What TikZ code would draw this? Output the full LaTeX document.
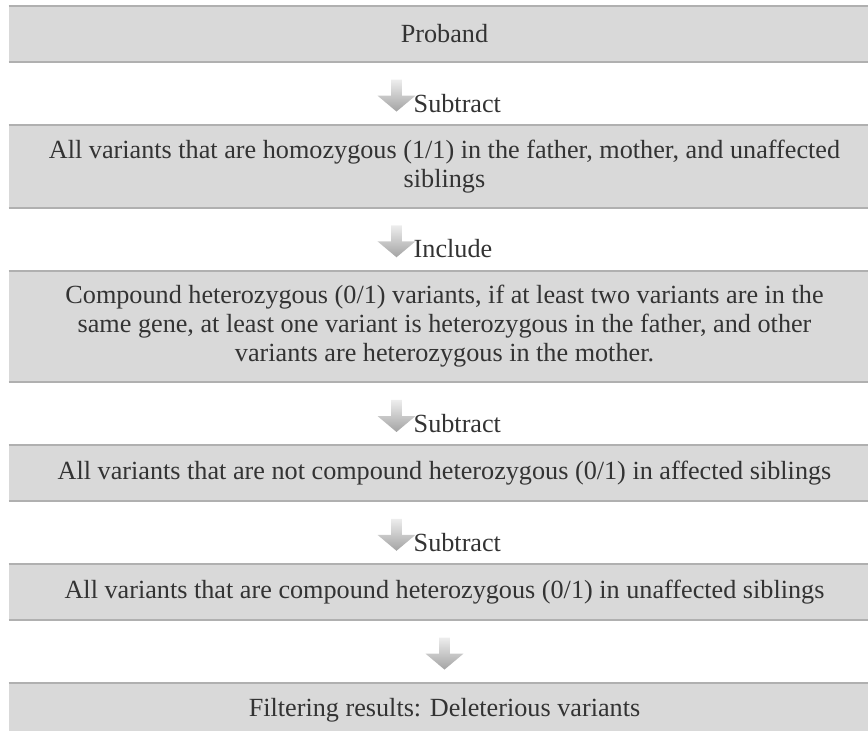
\documentclass[tikz,border=0pt]{standalone}
\usepackage{fontspec}
\setmainfont{Liberation Serif}
\usetikzlibrary{positioning,shapes.arrows}

\definecolor{boxfill}{HTML}{D9D9D9}
\definecolor{boxrule}{HTML}{B0B0B0}
\definecolor{txtgray}{HTML}{333333}

\begin{document}
\begin{tikzpicture}[
  x=0.5pt, y=-0.5pt,
  font=\fontsize{13.1}{14.5}\selectfont,
  stepbox/.style = {
    rectangle, fill=boxfill, align=center, text=txtgray,
    minimum width=435.5pt, minimum height=27.5pt,
    inner xsep=4pt, inner ysep=7.2pt,
  },
  rule/.style = {draw=boxrule, line width=1pt},
  downarrow/.style = {
    single arrow, shape border rotate=270, inner sep=2.5pt,
    single arrow head extend=6.75pt, single arrow tip angle=100,
    minimum height=16pt,
    top color=black!7, bottom color=black!36, draw=none,
  },
  note/.style = {inner sep=0pt, text=txtgray, anchor=base west, xshift=5.5pt},
  node distance=31.5pt,
]
  \useasboundingbox (0,0) rectangle (868,730);

  \node[stepbox, anchor=north] (b1) at (444.5,6) {Proband};
  \node[stepbox, below=of b1] (b2)
    {All variants that are homozygous (1/1) in the father, mother, and unaffected\\ siblings};
  \node[stepbox, below=of b2] (b3)
    {Compound heterozygous (0/1) variants, if at least two variants are in the\\
     same gene, at least one variant is heterozygous in the father, and other\\
     variants are heterozygous in the mother.};
  \node[stepbox, below=of b3] (b4)
    {All variants that are not compound heterozygous (0/1) in affected siblings};
  \node[stepbox, below=of b4] (b5)
    {All variants that are compound heterozygous (0/1) in unaffected siblings};
  \node[stepbox, below=of b5] (b6) {Filtering results: Deleterious variants};

  % grey rules on top and bottom of each box
  \draw[rule] (b1.north west) -- (b1.north east) (b1.south west) -- (b1.south east);
  \draw[rule] (b2.north west) -- (b2.north east) (b2.south west) -- (b2.south east);
  \draw[rule] (b3.north west) -- (b3.north east) (b3.south west) -- (b3.south east);
  \draw[rule] (b4.north west) -- (b4.north east) (b4.south west) -- (b4.south east);
  \draw[rule] (b5.north west) -- (b5.north east) (b5.south west) -- (b5.south east);
  \draw[rule] (b6.north west) -- (b6.north east);

  % gap midpoints
  \path (b1.south) -- (b2.north) coordinate[midway] (m1);
  \path (b2.south) -- (b3.north) coordinate[midway] (m2);
  \path (b3.south) -- (b4.north) coordinate[midway] (m3);
  \path (b4.south) -- (b5.north) coordinate[midway] (m4);
  \path (b5.south) -- (b6.north) coordinate[midway] (m5);

  \node[downarrow] (a1) at ([xshift=-24pt]m1) {};
  \node[downarrow] (a2) at ([xshift=-24pt]m2) {};
  \node[downarrow] (a3) at ([xshift=-24pt]m3) {};
  \node[downarrow] (a4) at ([xshift=-24pt]m4) {};
  \node[downarrow] (a5) at (m5) {};

  \node[note] (l1) at (a1.tip -| a1.east) {Subtract};
  \node[note] (l2) at (a2.tip -| a2.east) {Include};
  \node[note] (l3) at (a3.tip -| a3.east) {Subtract};
  \node[note] (l4) at (a4.tip -| a4.east) {Subtract};
\end{tikzpicture}
\end{document}
